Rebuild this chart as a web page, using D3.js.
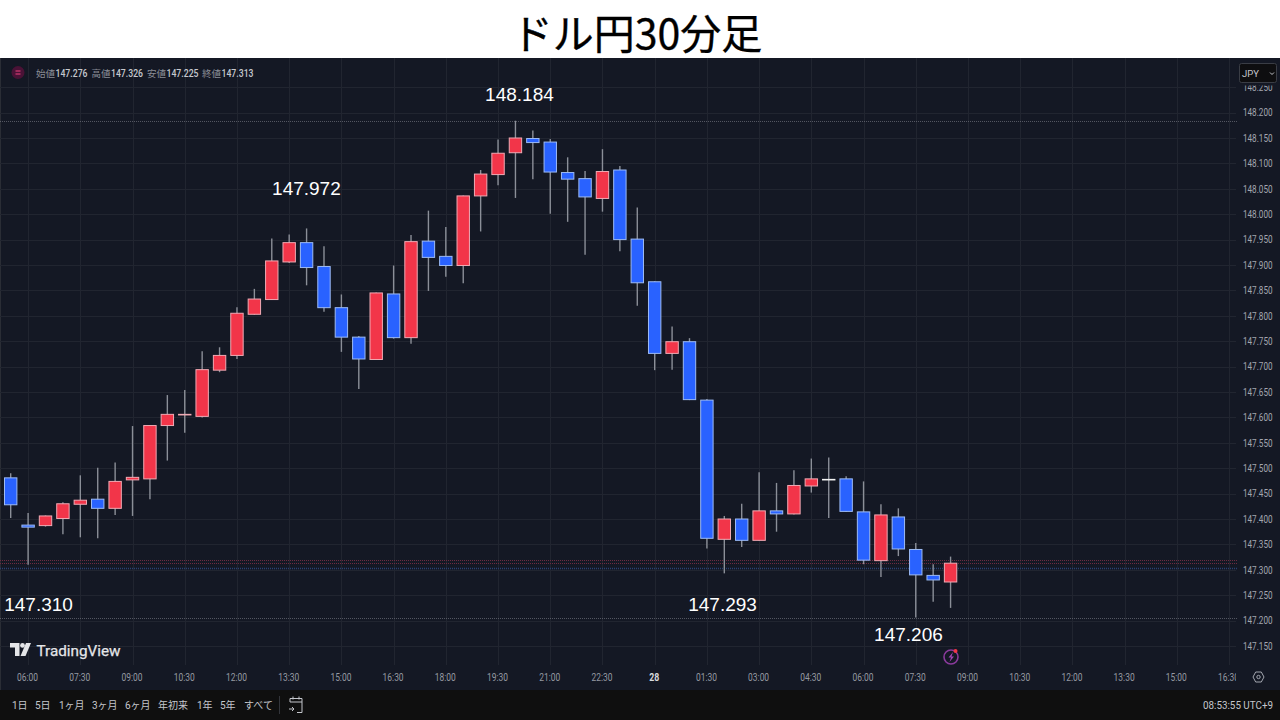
<!DOCTYPE html>
<html lang="ja">
<head>
<meta charset="utf-8">
<title>ドル円30分足</title>
<script src="https://cdn.jsdelivr.net/npm/d3@7"></script>
<style>
  html, body { margin: 0; padding: 0; background: #fff; }
  svg { display: block; }
  text { font-family: Roboto, "Noto Sans CJK JP", sans-serif; }
  .domain { display: none; }
</style>
</head>
<body>
<div id="chart"></div>
<script>
"use strict";

const TITLE = "ドル円30分足";

// 30 minute candles, oldest first
const candleOpen = [
  147.481, 147.388, 147.387, 147.401, 147.429, 147.439, 147.421, 147.477, 147.479, 147.584,
  147.605, 147.602, 147.693, 147.722, 147.803, 147.832, 147.906, 147.944, 147.897, 147.816,
  147.758, 147.714, 147.843, 147.757, 147.947, 147.917, 147.899, 148.036, 148.078, 148.121,
  148.149, 148.142, 148.082, 148.070, 148.031, 148.087, 147.951, 147.867, 147.726, 147.749,
  147.634, 147.360, 147.400, 147.358, 147.416, 147.410, 147.465, 147.478, 147.479, 147.414,
  147.318, 147.404, 147.340, 147.289, 147.276
];
const candleHigh = [
  147.490, 147.412, 147.407, 147.433, 147.486, 147.501, 147.511, 147.583, 147.585, 147.644,
  147.654, 147.730, 147.738, 147.817, 147.853, 147.952, 147.960, 147.972, 147.937, 147.842,
  147.760, 147.846, 147.899, 147.959, 148.007, 147.975, 148.037, 148.087, 148.147, 148.184,
  148.165, 148.148, 148.112, 148.085, 148.128, 148.095, 148.013, 147.868, 147.779, 147.756,
  147.636, 147.406, 147.430, 147.492, 147.471, 147.496, 147.519, 147.521, 147.484, 147.474,
  147.429, 147.421, 147.353, 147.311, 147.326
];
const candleLow = [
  147.402, 147.310, 147.385, 147.370, 147.364, 147.362, 147.408, 147.406, 147.439, 147.515,
  147.570, 147.600, 147.689, 147.715, 147.802, 147.831, 147.904, 147.860, 147.808, 147.729,
  147.656, 147.713, 147.755, 147.745, 147.849, 147.877, 147.864, 147.966, 148.057, 148.032,
  148.069, 148.001, 147.985, 147.920, 148.005, 147.927, 147.820, 147.693, 147.694, 147.634,
  147.342, 147.293, 147.345, 147.357, 147.375, 147.409, 147.452, 147.402, 147.414, 147.311,
  147.286, 147.327, 147.206, 147.237, 147.225
];
const candleClose = [
  147.428, 147.384, 147.406, 147.430, 147.437, 147.421, 147.474, 147.482, 147.584, 147.606,
  147.606, 147.694, 147.722, 147.805, 147.833, 147.908, 147.944, 147.895, 147.816, 147.758,
  147.715, 147.845, 147.757, 147.946, 147.915, 147.899, 148.036, 148.079, 148.120, 148.150,
  148.141, 148.083, 148.069, 148.034, 148.084, 147.950, 147.865, 147.726, 147.749, 147.635,
  147.362, 147.400, 147.358, 147.416, 147.410, 147.466, 147.479, 147.478, 147.415, 147.319,
  147.408, 147.341, 147.290, 147.280, 147.313
];

const priceTicks = [
  147.15, 147.2, 147.25, 147.3, 147.35, 147.4, 147.45, 147.5, 147.55, 147.6, 147.65, 147.7,
  147.75, 147.8, 147.85, 147.9, 147.95, 148.0, 148.05, 148.1, 148.15, 148.2, 148.25
];
const timeLabels = [
  "06:00", "07:30", "09:00", "10:30", "12:00", "13:30", "15:00", "16:30", "18:00", "19:30",
  "21:00", "22:30", "28", "01:30", "03:00", "04:30", "06:00", "07:30", "09:00", "10:30",
  "12:00", "13:30", "15:00", "16:30"
];
const timeIndex = timeLabels.map((d, i) => 1 + i * 3);

// price annotations typed on the chart: label, candle position, price position
const noteLabels = ["148.184", "147.972", "147.310", "147.293", "147.206"];
const noteIndex = [29.23, 16.99, 1.6, 40.9, 51.58];
const notePrice = [148.2226, 148.0376, 147.2187, 147.2187, 147.1596];

const dottedPrices = [148.184, 147.206];
const redPrices = [147.319, 147.313];
const bluePrices = [147.303];

const legendNames = ["始値", "高値", "安値", "終値"];
const legendValues = ["147.276", "147.326", "147.225", "147.313"];
const rangeButtons = ["1日", "5日", "1ヶ月", "3ヶ月", "6ヶ月", "年初来", "1年", "5年", "すべて"];

const BG = "#141824";
const GRID = "#212530";
const RED = "#f23549";
const BLUE = "#2962ff";

const svg = d3.select("#chart").append("svg")
  .attr("width", 1280)
  .attr("height", 720);

const defs = svg.append("defs");
defs.append("clipPath").attr("id", "timeClip")
  .append("rect").attr("x", 0).attr("y", 660).attr("width", 1236).attr("height", 30);

svg.append("rect").attr("width", 1280).attr("height", 58).attr("fill", "#fff");
svg.append("text")
  .attr("x", 637).attr("y", 49)
  .attr("text-anchor", "middle")
  .attr("fill", "#000")
  .attr("stroke", "#000")
  .attr("stroke-width", 0.35)
  .style("font-family", '"Noto Sans CJK JP", sans-serif')
  .style("font-size", "41px")
  .text(TITLE);

svg.append("rect").attr("y", 58).attr("width", 1280).attr("height", 632).attr("fill", BG);
svg.append("rect").attr("y", 58).attr("width", 1).attr("height", 632).attr("fill", "#2a2d35");
svg.append("rect").attr("y", 690).attr("width", 1280).attr("height", 30).attr("fill", "#0f0f0f");

const x = d3.scaleLinear().domain([0, 70]).range([10.7, 10.7 + 70 * 17.405]);
const y = d3.scaleLinear().domain([147.15, 148.25]).range([646, 87.2]);

// grid
svg.append("g").selectAll("line").data(timeIndex).join("line")
  .attr("x1", d => Math.round(x(d)) + 0.5).attr("x2", d => Math.round(x(d)) + 0.5)
  .attr("y1", 58).attr("y2", 665)
  .attr("stroke", GRID);
svg.append("g").selectAll("line").data(priceTicks).join("line")
  .attr("x1", 0).attr("x2", 1236)
  .attr("y1", d => Math.round(y(d)) + 0.5).attr("y2", d => Math.round(y(d)) + 0.5)
  .attr("stroke", GRID);

// axes
const yAxis = d3.axisRight(y).tickValues(priceTicks).tickSize(0).tickPadding(0)
  .tickFormat(d3.format(".3f"));
svg.append("g").attr("transform", "translate(1243,0)").call(yAxis)
  .selectAll("text")
  .attr("fill", "#a3a6af")
  .attr("textLength", 29.5)
  .attr("lengthAdjust", "spacingAndGlyphs")
  .style("font-size", "10px");

const xAxis = d3.axisBottom(x).tickValues(timeIndex).tickSize(0).tickPadding(0)
  .tickFormat((d, i) => timeLabels[i]);
const timeG = svg.append("g").attr("clip-path", "url(#timeClip)")
  .append("g").attr("transform", "translate(-1,674)").call(xAxis);
timeG.selectAll("text")
  .attr("fill", "#9598a1")
  .attr("textLength", (d, i) => timeLabels[i].length === 2 ? 10 : 21)
  .attr("lengthAdjust", "spacingAndGlyphs")
  .style("font-size", "10px");
timeG.selectAll(".tick")
  .filter((d, i) => timeLabels[i] === "28")
  .select("text")
  .attr("fill", "#d8dade")
  .style("font-weight", 700);

// horizontal price lines
svg.append("g").selectAll("line").data(dottedPrices).join("line")
  .attr("x1", 0).attr("x2", 1237)
  .attr("y1", d => Math.round(y(d)) + 0.5).attr("y2", d => Math.round(y(d)) + 0.5)
  .attr("stroke", "#7d808a").attr("stroke-dasharray", "1 1").attr("opacity", 0.6);
svg.append("g").selectAll("line").data(redPrices).join("line")
  .attr("x1", 0).attr("x2", 1237)
  .attr("y1", d => Math.round(y(d)) + 0.5).attr("y2", d => Math.round(y(d)) + 0.5)
  .attr("stroke", "#6e2c40").attr("stroke-dasharray", "1 1");
svg.append("g").selectAll("line").data(bluePrices).join("line")
  .attr("x1", 0).attr("x2", 1237)
  .attr("y1", d => Math.round(y(d)) + 0.5).attr("y2", d => Math.round(y(d)) + 0.5)
  .attr("stroke", "#2a4272").attr("stroke-width", 1.5).attr("stroke-dasharray", "1 1");

// candles
const candles = candleOpen.map((open, i) => ({
  i, open, high: candleHigh[i], low: candleLow[i], close: candleClose[i]
}));
const candleG = svg.append("g").selectAll("g").data(candles).join("g");

candleG.append("line")
  .attr("x1", d => x(d.i)).attr("x2", d => x(d.i))
  .attr("y1", d => y(d.high)).attr("y2", d => y(d.low))
  .attr("stroke", "#8b8f98")
  .attr("stroke-width", 1.4);

function bodyFill(d) {
  if (Math.abs(d.open - d.close) < 0.001) return "#f2f2f2";
  return d.close >= d.open ? RED : BLUE;
}
function bodyStroke(d) {
  if (Math.abs(d.open - d.close) < 0.001) return "#f2f2f2";
  return d.close >= d.open ? "#f0aab4" : "#9dbbf5";
}

candleG.append("rect")
  .attr("x", d => x(d.i) - 6.2)
  .attr("width", 12.4)
  .attr("y", d => Math.min(y(d.open), y(d.close)))
  .attr("height", d => Math.max(0.6, Math.abs(y(d.open) - y(d.close))))
  .attr("fill", bodyFill)
  .attr("stroke", bodyStroke)
  .attr("stroke-width", 1);

// annotations
svg.append("g").selectAll("text").data(noteLabels).join("text")
  .attr("x", (d, i) => x(noteIndex[i]))
  .attr("y", (d, i) => y(notePrice[i]))
  .attr("text-anchor", "middle")
  .attr("fill", "#fff")
  .style("font-family", '"Liberation Sans", Arial, sans-serif')
  .style("font-size", "19px")
  .text(d => d);

// legend row
svg.append("circle").attr("cx", 18).attr("cy", 72.5).attr("r", 6.5).attr("fill", "#4a1236");
svg.append("path").attr("d", "M15.5 71h5M15.5 74h5").attr("stroke", "#f0437f").attr("stroke-width", 1.2);
const legendX = [36, 91.5, 147, 202];
legendNames.forEach((name, i) => {
  svg.append("text").attr("x", legendX[i]).attr("y", 76.5)
    .attr("fill", "#8a8d96").style("font-size", "9.5px").text(name);
  svg.append("text").attr("x", legendX[i] + 19.5).attr("y", 76.5)
    .attr("fill", "#c6c8ce").attr("textLength", 32).attr("lengthAdjust", "spacingAndGlyphs")
    .style("font-size", "10px").style("font-weight", 500)
    .text(legendValues[i]);
});

// currency button, hiding the top of the 148.250 label
svg.append("rect").attr("x", 1238).attr("y", 58).attr("width", 42).attr("height", 27.5).attr("fill", BG);
svg.append("rect").attr("x", 1239.5).attr("y", 63.5).attr("width", 37).attr("height", 19).attr("rx", 2)
  .attr("fill", "#0e0e10").attr("stroke", "#3a3d45");
svg.append("text").attr("x", 1242).attr("y", 76.5).attr("fill", "#c4c6cc")
  .style("font-size", "9.5px").text("JPY");
svg.append("path").attr("d", "M1270 72.5l2 2 2-2").attr("fill", "none")
  .attr("stroke", "#c4c6cc").attr("stroke-width", 1);

// TradingView logo
const logo = svg.append("g").attr("transform", "translate(10,643)").attr("fill", "#e4e5e8");
logo.append("path").attr("d", "M0 0h9.5v13h-4.5v-8.5h-5z");
logo.append("circle").attr("cx", 12.5).attr("cy", 2.4).attr("r", 2.4);
logo.append("path").attr("d", "M16 0h5l-5.5 13h-5z");
svg.append("text").attr("x", 36.5).attr("y", 655.5)
  .attr("fill", "#e4e5e8").attr("stroke", "#e4e5e8").attr("stroke-width", 0.25)
  .style("font-size", "15.5px")
  .attr("textLength", 84).attr("lengthAdjust", "spacingAndGlyphs")
  .text("TradingView");

// flash icon
svg.append("circle").attr("cx", 951).attr("cy", 657).attr("r", 7)
  .attr("fill", "none").attr("stroke", "#8a3a9c").attr("stroke-width", 1.6);
svg.append("path").attr("d", "M953 652l-4.5 5.5h2.5l-1.5 4.5 4.5-5.5h-2.5z").attr("fill", "#a044b4");
svg.append("circle").attr("cx", 955.5).attr("cy", 651).attr("r", 2).attr("fill", "#f23645");

// settings icon
svg.append("path").attr("d", "M1253 677l2.7-5h5.6l2.7 5-2.7 5h-5.6z")
  .attr("fill", "none").attr("stroke", "#a3a6af");
svg.append("circle").attr("cx", 1258.5).attr("cy", 677).attr("r", 1.7)
  .attr("fill", "none").attr("stroke", "#a3a6af");

// footer
const buttonX = [12, 35, 59, 92, 125, 158, 197, 220, 244];
rangeButtons.forEach((label, i) => {
  svg.append("text").attr("x", buttonX[i]).attr("y", 709)
    .attr("fill", "#c4c6cc").style("font-size", "10px").text(label);
});
svg.append("line").attr("x1", 279.5).attr("x2", 279.5).attr("y1", 696).attr("y2", 714).attr("stroke", "#33353b");
svg.append("path").attr("d", "M290 702v-3.5h12v14h-5M290 702h12M293 696.5v3M299 696.5v3M289 709h5M292 707l2 2-2 2")
  .attr("fill", "none").attr("stroke", "#c4c6cc").attr("stroke-width", 1);
svg.append("text").attr("x", 1273).attr("y", 709).attr("text-anchor", "end")
  .attr("fill", "#c4c6cc").attr("textLength", 70).attr("lengthAdjust", "spacingAndGlyphs")
  .style("font-size", "10.5px").text("08:53:55 UTC+9");
</script>
</body>
</html>
